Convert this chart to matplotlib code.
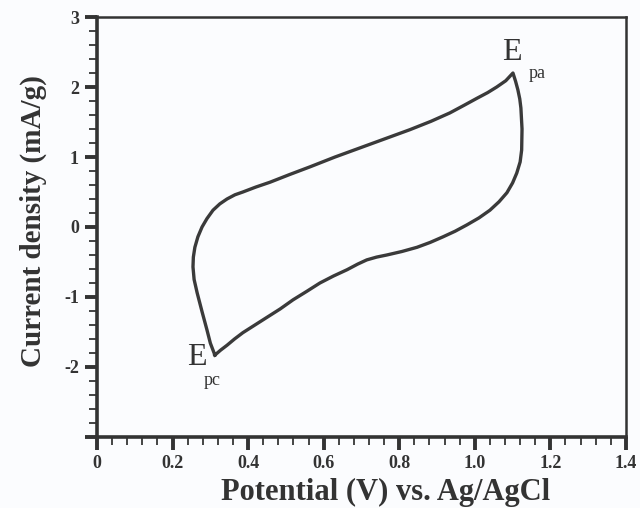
import numpy as np
import matplotlib.pyplot as plt
from matplotlib.ticker import MultipleLocator, FixedFormatter, FixedLocator

# анодна гілка (від Epc до Epa)
v_fwd = [0.312, 0.300, 0.291, 0.278, 0.265, 0.257, 0.254, 0.255, 0.259, 0.267,
         0.278, 0.291, 0.307, 0.325, 0.344, 0.365, 0.386, 0.420, 0.458, 0.510,
         0.564, 0.630, 0.696, 0.762, 0.828, 0.884, 0.934, 0.972, 1.006, 1.034,
         1.058, 1.082, 1.101]
j_fwd = [-1.83, -1.66, -1.47, -1.21, -0.94, -0.75, -0.57, -0.43, -0.29, -0.14,
         0.00, 0.12, 0.24, 0.33, 0.40, 0.46, 0.50, 0.57, 0.64, 0.75,
         0.86, 1.00, 1.13, 1.26, 1.39, 1.51, 1.63, 1.74, 1.84, 1.92,
         2.00, 2.09, 2.20]

# катодна гілка (від Epa назад до Epc)
v_rev = [1.101, 1.108, 1.114, 1.119, 1.122, 1.125, 1.124, 1.120, 1.111, 1.100,
         1.085, 1.064, 1.040, 1.011, 0.979, 0.948, 0.916, 0.882, 0.847, 0.807,
         0.767, 0.740, 0.714, 0.690, 0.662, 0.626, 0.590, 0.555, 0.519, 0.485,
         0.450, 0.418, 0.386, 0.364, 0.344, 0.327, 0.312]
j_rev = [2.20, 2.08, 1.96, 1.83, 1.70, 1.40, 1.10, 0.93, 0.77, 0.63,
         0.49, 0.36, 0.24, 0.13, 0.03, -0.06, -0.14, -0.22, -0.29, -0.35,
         -0.40, -0.43, -0.47, -0.53, -0.61, -0.70, -0.80, -0.92, -1.04, -1.17,
         -1.29, -1.40, -1.51, -1.60, -1.69, -1.76, -1.83]

x_ticks = [0, 0.2, 0.4, 0.6, 0.8, 1.0, 1.2, 1.4]
x_labels = ["0", "0.2", "0.4", "0.6", "0.8", "1.0", "1.2", "1.4"]
y_ticks = [-3, -2, -1, 0, 1, 2, 3]
y_labels = ["", "-2", "-1", "0", "1", "2", "3"]

plt.rcParams['font.family'] = ['Liberation Serif', 'DejaVu Serif']

fig = plt.figure(figsize=(6.4, 5.08), dpi=100)
fig.patch.set_facecolor('#fbfcfe')
ax = fig.add_axes([0.1516, 0.1398, 0.8264, 0.8267])
ax.set_facecolor('#fbfcfe')

ax.plot(v_fwd + v_rev, j_fwd + j_rev, color='#3a3a3a', lw=2.4,
        solid_joinstyle='round')

ax.set_xlim(0, 1.4)
ax.set_ylim(-3, 3)
ax.xaxis.set_major_locator(FixedLocator(x_ticks))
ax.xaxis.set_major_formatter(FixedFormatter(x_labels))
ax.yaxis.set_major_locator(FixedLocator(y_ticks))
ax.yaxis.set_major_formatter(FixedFormatter(y_labels))
ax.xaxis.set_minor_locator(MultipleLocator(0.04))
ax.yaxis.set_minor_locator(MultipleLocator(0.2))

ax.tick_params(which='major', direction='out', length=9, width=2.8,
               color='#333333', labelsize=13, pad=4)
ax.tick_params(which='minor', direction='out', length=6, width=1.4,
               color='#444444')
for lab in ax.get_xticklabels() + ax.get_yticklabels():
    lab.set_fontweight('bold')
    lab.set_color('#333333')

for side in ['left', 'bottom']:
    ax.spines[side].set_linewidth(2.6)
    ax.spines[side].set_color('#333333')
for side in ['top', 'right']:
    ax.spines[side].set_linewidth(1.8)
    ax.spines[side].set_color('#333333')

ax.set_xlabel("Potential (V) vs. Ag/AgCl", fontsize=22, fontweight='bold',
              color='#333333')
ax.set_ylabel("Current density (mA/g)", fontsize=21, fontweight='bold',
              color='#333333')
ax.xaxis.set_label_coords(0.546, -0.097)
ax.yaxis.set_label_coords(-0.095, 0.515)

ax.text(0.265, -1.86, "E", fontsize=23, color='#333333', ha='center', va='center')
ax.text(0.306, -2.19, "pc", fontsize=13, color='#333333', ha='center', va='center')
ax.text(1.098, 2.50, "E", fontsize=23, color='#333333', ha='center', va='center')
ax.text(1.164, 2.19, "pa", fontsize=13, color='#333333', ha='center', va='center')

fig.savefig("out.png", dpi=100, facecolor=fig.get_facecolor())
